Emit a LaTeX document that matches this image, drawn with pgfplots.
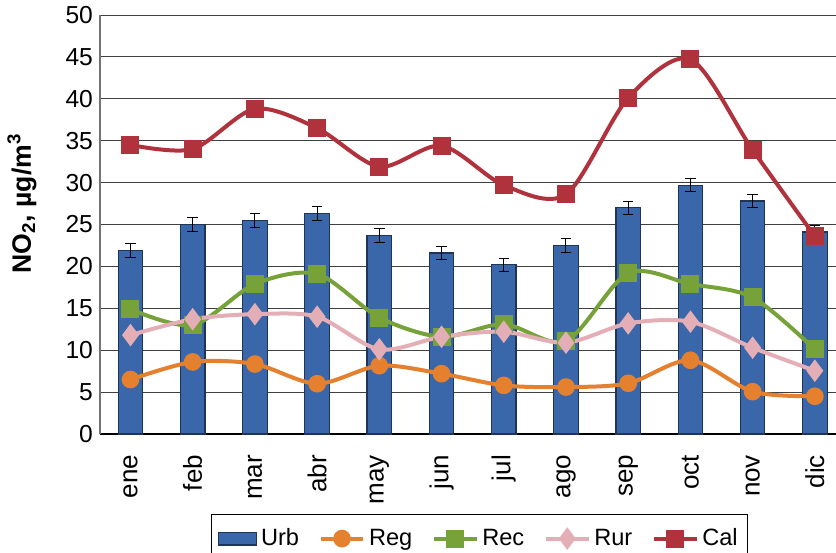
\documentclass[border=0pt]{standalone}
\usepackage{fontspec}
\setmainfont{Liberation Sans}
\usepackage{pgfplots}
\pgfplotsset{compat=1.18}
\usepackage{pgfplotstable}

\definecolor{urb}{HTML}{3A67A9}
\definecolor{urbedge}{HTML}{1E3558}
\definecolor{reg}{HTML}{E5802F}
\definecolor{rec}{HTML}{77A23A}
\definecolor{rur}{HTML}{E4AEB6}
\definecolor{cal}{HTML}{B0323C}

% monthly NO2 means, one row per month (x = 0..11)
\pgfplotstableread{
x  urb  reg  rec  rur  cal
0  21.9 6.5  14.9 11.8 34.5
1  25.0 8.6  13.0 13.7 34.0
2  25.5 8.35 17.9 14.3 38.8
3  26.3 6.0  19.1 14.0 36.5
4  23.7 8.15 13.9 10.1 31.9
5  21.6 7.2  11.6 11.6 34.4
6  20.2 5.8  13.1 12.2 29.7
7  22.5 5.6  11.1 10.9 28.6
8  27.0 6.05 19.2 13.2 40.1
9  29.7 8.8  17.9 13.4 44.7
10 27.8 5.05 16.3 10.3 33.9
11 24.1 4.5  10.1 7.55 23.6
}\datatable

\pgfplotsset{
  linestyle/.style={smooth, tension=0.5, line width=2pt, color=#1,
    mark options={solid, fill=#1, draw=#1}},
  lineleg/.style={legend image code/.code={
    \draw[##1, mark repeat=2, mark phase=2]
      plot coordinates {(0pt,0pt) (10.5pt,0pt) (21pt,0pt)};}},
}

\begin{document}
\begin{tikzpicture}
\begin{axis}[
  scale only axis,
  width=368pt, height=209.5pt,
  xmin=-0.49, xmax=11.34,
  ymin=0, ymax=50,
  ytick={0,5,...,50},
  xtick={0,...,11},
  xticklabels={ene,feb,mar,abr,may,jun,jul,ago,sep,oct,nov,dic},
  axis x line=bottom, axis y line=left,
  axis line style={-},
  x axis line style={black, line width=0.7pt},
  y axis line style={black!55, line width=0.7pt},
  major tick length=0pt,
  ymajorgrids,
  grid style={black!75, line width=0.5pt},
  yticklabel style={font=\fontsize{12.3}{14}\selectfont},
  xticklabel style={font=\fontsize{13}{15}\selectfont, rotate=90, anchor=east},
  /pgf/number format/assume math mode=true,
  xticklabel shift=7pt,
  ylabel={\bfseries NO\textsubscript{2}, µg/m\textsuperscript{3}},
  ylabel style={font=\fontsize{13.3}{15}\selectfont, at={(axis description cs:-0.106,0.55)}, anchor=center},
  legend columns=5,
  legend style={at={(axis description cs:0.516,-0.191)}, anchor=north,
    draw=black, line width=0.5pt, font=\fontsize{11.8}{14}\selectfont,
    /tikz/every even column/.append style={column sep=8pt},
    inner xsep=3pt, inner ysep=5pt},
  legend cell align=left,
]
\addplot[ybar, bar width=12.25pt, fill=urb, draw=urbedge, line width=0.6pt,
  error bars/.cd, y dir=both, y fixed=0.8,
  error bar style={black, line width=0.5pt},
  error mark options={rotate=90, mark size=2.6pt, black, line width=0.5pt},
  /pgfplots/legend image code/.code={
    \draw[fill=urb, draw=urbedge, line width=0.6pt] (0pt,-3.2pt) rectangle (19pt,3.2pt);}]
  table[x=x, y=urb] {\datatable};
\addlegendentry{Urb}
\addplot[linestyle=reg, mark=*, mark size=3.4pt, lineleg] table[x=x, y=reg] {\datatable};
\addlegendentry{Reg}
\addplot[linestyle=rec, mark=square*, mark size=3.5pt, lineleg] table[x=x, y=rec] {\datatable};
\addlegendentry{Rec}
\addplot[linestyle=rur, mark=diamond*, mark size=4pt, lineleg] table[x=x, y=rur] {\datatable};
\addlegendentry{Rur}
\addplot[linestyle=cal, mark=square*, mark size=3.5pt, lineleg] table[x=x, y=cal] {\datatable};
\addlegendentry{Cal}
\end{axis}
\pgfresetboundingbox
\path[use as bounding box] (-50pt,-59pt) rectangle (368pt,217pt);
\end{tikzpicture}
\end{document}
